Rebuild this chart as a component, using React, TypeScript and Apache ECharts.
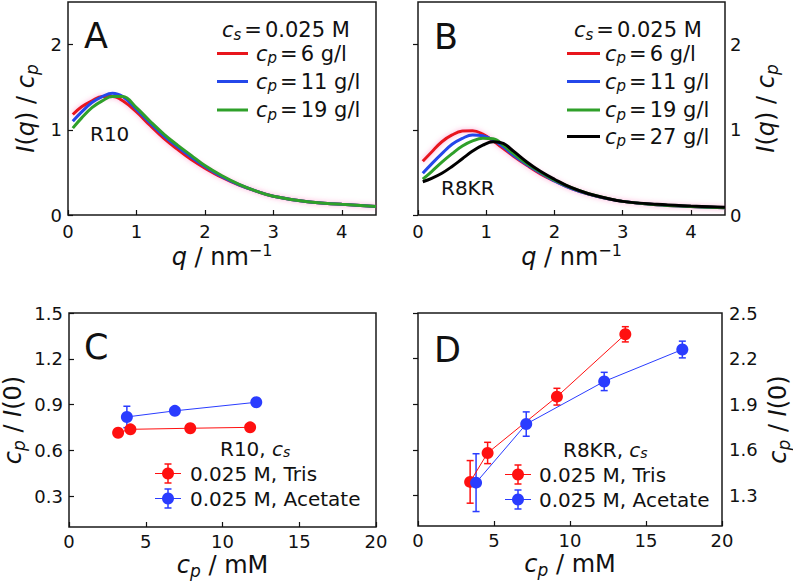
import React, { useEffect, useRef } from 'react';
import * as echarts from 'echarts';

// ---------- data ----------
const qA = [0.07, 0.2, 0.35, 0.5, 0.65, 0.8, 1.0, 1.2, 1.4, 1.6, 1.8, 2.0, 2.25, 2.5, 2.75, 3.0, 3.5, 4.0, 4.5];
const aCp6 = [1.18, 1.27, 1.34, 1.39, 1.39, 1.34, 1.21, 1.05, 0.9, 0.77, 0.65, 0.55, 0.44, 0.35, 0.28, 0.22, 0.155, 0.125, 0.1];
const aCp11 = [1.1, 1.21, 1.32, 1.39, 1.43, 1.39, 1.24, 1.08, 0.93, 0.8, 0.68, 0.57, 0.45, 0.355, 0.28, 0.22, 0.155, 0.125, 0.1];
const aCp19 = [1.02, 1.14, 1.26, 1.34, 1.39, 1.39, 1.26, 1.1, 0.95, 0.82, 0.7, 0.58, 0.46, 0.36, 0.28, 0.22, 0.155, 0.125, 0.1];

const qB = [0.07, 0.2, 0.35, 0.5, 0.65, 0.8, 0.95, 1.1, 1.25, 1.4, 1.6, 1.8, 2.0, 2.25, 2.5, 2.75, 3.0, 3.5, 4.0, 4.5];
const bCp6 = [0.63, 0.74, 0.86, 0.94, 0.985, 0.99, 0.95, 0.87, 0.78, 0.69, 0.58, 0.48, 0.4, 0.31, 0.245, 0.195, 0.16, 0.12, 0.1, 0.085];
const bCp11 = [0.49, 0.6, 0.72, 0.83, 0.9, 0.94, 0.93, 0.88, 0.8, 0.7, 0.59, 0.49, 0.4, 0.31, 0.245, 0.195, 0.16, 0.12, 0.1, 0.085];
const bCp19 = [0.42, 0.51, 0.62, 0.72, 0.81, 0.87, 0.9, 0.895, 0.82, 0.72, 0.6, 0.5, 0.41, 0.32, 0.25, 0.2, 0.16, 0.12, 0.1, 0.085];
const bCp27 = [0.39, 0.43, 0.49, 0.57, 0.66, 0.75, 0.82, 0.86, 0.84, 0.75, 0.62, 0.51, 0.42, 0.32, 0.25, 0.2, 0.16, 0.125, 0.105, 0.09];

const cTrisX = [3.2, 4.0, 7.9, 11.8];
const cTrisY = [0.717, 0.739, 0.746, 0.752];
const cTrisErr = [0.015, 0.015, 0.015, 0.015];
const cAcetX = [3.77, 6.9, 12.2];
const cAcetY = [0.82, 0.86, 0.916];
const cAcetErr = [0.07, 0.02, 0.02];

const dTrisX = [3.43, 4.58, 9.14, 13.64];
const dTrisY = [1.39, 1.58, 1.95, 2.36];
const dTrisErr = [0.14, 0.07, 0.055, 0.05];
const dAcetX = [3.82, 7.12, 12.25, 17.39];
const dAcetY = [1.385, 1.77, 2.05, 2.26];
const dAcetErr = [0.19, 0.08, 0.06, 0.055];

const qTicks = [0, 1, 2, 3, 4];
const iTicks = [0, 1, 2];
const cpTicks = [0, 5, 10, 15, 20];
const cTicksY = [0.3, 0.6, 0.9, 1.2, 1.5];
const dTicksY = [1.3, 1.6, 1.9, 2.2, 2.5];

// ---------- styles ----------
const FONT = 'DejaVu Sans';
const INK = '#111111';
const RED = '#e8161c';
const BLUE = '#2447ea';
const GREEN = '#2fa02a';
const BLACK = '#000000';
const MRED = '#ff1010';
const MBLUE = '#2a3cff';

function richSet(size: number) {
  return {
    n: { fontFamily: FONT, fontSize: size, color: INK },
    i: { fontFamily: FONT, fontSize: size, fontStyle: 'italic', color: INK },
    sub: { fontFamily: FONT, fontSize: Math.round(size * 0.72), fontStyle: 'italic', color: INK, padding: [Math.round(size * 0.45), 0, 0, 0] },
    sb: { fontFamily: FONT, fontSize: Math.round(size * 0.72), fontStyle: 'italic', color: INK, padding: [Math.round(size * 0.3), 0, 0, 0] },
    sup: { fontFamily: FONT, fontSize: Math.round(size * 0.68), color: INK, padding: [0, 0, Math.round(size * 0.55), 0] },
    eq: { fontFamily: FONT, fontSize: size, color: INK, padding: [0, 3, 0, 3] },
  };
}

function xAxisCfg(gridIndex: number, max: number, ticks: number[], name: string, gap: number, margin: number) {
  return {
    type: 'value', gridIndex, min: 0, max,
    axisLine: { show: false }, splitLine: { show: false },
    axisTick: { show: true, inside: true, length: 5, customValues: ticks, lineStyle: { color: INK, width: 1.2 } },
    axisLabel: { customValues: ticks, margin, fontSize: 18, fontFamily: FONT, color: INK, formatter: (v: number) => String(v) },
    name, nameLocation: 'middle', nameGap: gap,
    nameTextStyle: { fontSize: 24, fontFamily: FONT, color: INK, rich: richSet(24) },
  };
}

function yAxisCfg(gridIndex: number, min: number, max: number, ticks: number[], pos: string, name: string, gap: number, margin: number, dec: number) {
  return {
    type: 'value', gridIndex, min, max, position: pos,
    axisLine: { show: false }, splitLine: { show: false },
    axisTick: { show: true, inside: true, length: 5, customValues: ticks, lineStyle: { color: INK, width: 1.2 } },
    axisLabel: { customValues: ticks, margin, fontSize: 18, fontFamily: FONT, color: INK, formatter: (v: number) => v.toFixed(dec) },
    name, nameLocation: 'middle', nameGap: gap, nameRotate: 90,
    nameTextStyle: { fontSize: 24, fontFamily: FONT, color: INK, rich: richSet(24) },
  };
}

function curve(idx: number, qs: number[], vs: number[], color: string, halo: boolean) {
  return {
    type: 'line', xAxisIndex: idx, yAxisIndex: idx, smooth: 0.4, showSymbol: false, symbol: 'none',
    data: qs.map((q, i) => [q, vs[i]]),
    lineStyle: halo
      ? { color, width: 3, shadowColor: 'rgba(255,90,170,0.55)', shadowBlur: 5 }
      : { color, width: 3 },
    itemStyle: { color }, silent: true, z: 3,
  };
}

function errorBars(idx: number, xs: number[], ys: number[], es: number[], color: string) {
  return {
    type: 'custom', xAxisIndex: idx, yAxisIndex: idx, silent: true, z: 2,
    data: xs.map((x, i) => [x, ys[i], es[i]]),
    encode: { x: 0, y: 1 },
    renderItem: (_p: any, api: any) => {
      const x = api.value(0), y = api.value(1), e = api.value(2);
      const top = api.coord([x, y + e]);
      const bot = api.coord([x, y - e]);
      const cap = 3.5;
      const st = { stroke: color, lineWidth: 1.5 };
      return {
        type: 'group', children: [
          { type: 'line', shape: { x1: top[0], y1: top[1], x2: bot[0], y2: bot[1] }, style: st },
          { type: 'line', shape: { x1: top[0] - cap, y1: top[1], x2: top[0] + cap, y2: top[1] }, style: st },
          { type: 'line', shape: { x1: bot[0] - cap, y1: bot[1], x2: bot[0] + cap, y2: bot[1] }, style: st },
        ],
      };
    },
  };
}

function points(idx: number, xs: number[], ys: number[], color: string) {
  return {
    type: 'line', xAxisIndex: idx, yAxisIndex: idx, symbol: 'circle', symbolSize: 12, showSymbol: true,
    data: xs.map((x, i) => [x, ys[i]]),
    lineStyle: { color, width: 1 }, itemStyle: { color }, silent: true, z: 3,
  };
}

function txt(x: number, y: number, text: string, size: number, align = 'left') {
  return {
    type: 'text', x, y, silent: true,
    style: { text, fontFamily: FONT, fontSize: size, fill: INK, align, verticalAlign: 'middle', rich: richSet(size) },
  };
}

function legLine(x1: number, x2: number, y: number, color: string) {
  return { type: 'line', silent: true, shape: { x1, y1: y, x2, y2: y }, style: { stroke: color, lineWidth: 3 } };
}

function legMarker(cx: number, y: number, color: string) {
  const st = { stroke: color, lineWidth: 1.5 };
  return [
    { type: 'line', silent: true, shape: { x1: cx - 13, y1: y, x2: cx + 13, y2: y }, style: { stroke: color, lineWidth: 1 } },
    { type: 'line', silent: true, shape: { x1: cx, y1: y - 9.5, x2: cx, y2: y + 9.5 }, style: st },
    { type: 'line', silent: true, shape: { x1: cx - 3.5, y1: y - 9.5, x2: cx + 3.5, y2: y - 9.5 }, style: st },
    { type: 'line', silent: true, shape: { x1: cx - 3.5, y1: y + 9.5, x2: cx + 3.5, y2: y + 9.5 }, style: st },
    { type: 'circle', silent: true, shape: { cx, cy: y, r: 6 }, style: { fill: color } },
  ];
}

export default function App() {
  const ref = useRef<HTMLDivElement>(null);
  useEffect(() => {
    if (!ref.current) return;
    const chart = echarts.init(ref.current, undefined, { renderer: 'svg' });
    const gridStyle = { show: true, borderColor: '#1a1a1a', borderWidth: 1.5, backgroundColor: 'transparent', containLabel: false };
    const LEG = 21;
    const LEG2 = 20;
    chart.setOption({
      animation: false,
      backgroundColor: '#ffffff',
      grid: [
        { ...gridStyle, left: 68, top: 2, width: 308, height: 213 },
        { ...gridStyle, left: 418, top: 2, width: 307, height: 213 },
        { ...gridStyle, left: 68, top: 313, width: 308, height: 214 },
        { ...gridStyle, left: 418, top: 313, width: 307, height: 213 },
      ],
      xAxis: [
        xAxisCfg(0, 4.5, qTicks, '{i|q}{n| / nm}{sup|−1}', 27, 7),
        xAxisCfg(1, 4.5, qTicks, '{i|q}{n| / nm}{sup|−1}', 27, 7),
        xAxisCfg(2, 20, cpTicks, '{i|c}{sub|p}{n| / mM}', 24, 5),
        xAxisCfg(3, 20, cpTicks, '{i|c}{sub|p}{n| / mM}', 24, 5),
      ],
      yAxis: [
        yAxisCfg(0, 0, 2.5, iTicks, 'left', '{i|I}{n|(}{i|q}{n|) / }{i|c}{sub|p}', 28, 6, 0),
        yAxisCfg(1, 0, 2.5, iTicks, 'right', '{i|I}{n|(}{i|q}{n|) / }{i|c}{sub|p}', 27, 5, 0),
        yAxisCfg(2, 0.1, 1.5, cTicksY, 'left', '{i|c}{sub|p}{n| / }{i|I}{n|(0)}', 42, 6, 1),
        yAxisCfg(3, 1.1, 2.5, dTicksY, 'right', '{i|c}{sub|p}{n| / }{i|I}{n|(0)}', 42, 7, 1),
      ],
      series: [
        curve(0, qA, aCp6, RED, true),
        curve(0, qA, aCp11, BLUE, false),
        curve(0, qA, aCp19, GREEN, false),
        curve(1, qB, bCp6, RED, true),
        curve(1, qB, bCp11, BLUE, false),
        curve(1, qB, bCp19, GREEN, false),
        curve(1, qB, bCp27, BLACK, false),
        errorBars(2, cTrisX, cTrisY, cTrisErr, MRED),
        points(2, cTrisX, cTrisY, MRED),
        errorBars(2, cAcetX, cAcetY, cAcetErr, MBLUE),
        points(2, cAcetX, cAcetY, MBLUE),
        errorBars(3, dTrisX, dTrisY, dTrisErr, MRED),
        points(3, dTrisX, dTrisY, MRED),
        errorBars(3, dAcetX, dAcetY, dAcetErr, MBLUE),
        points(3, dAcetX, dAcetY, MBLUE),
      ],
      graphic: [
        // panel letters
        txt(84, 36, '{n|A}', 35),
        txt(434, 37, '{n|B}', 35),
        txt(84, 347, '{n|C}', 35),
        txt(434, 350, '{n|D}', 35),
        // panel A legend
        txt(222, 30, '{i|c}{sub|s}{eq|=}{n|0.025 M}', LEG),
        legLine(217, 248, 53.5, RED),
        txt(256, 53.5, '{i|c}{sub|p}{eq|=}{n|6 g/l}', LEG),
        legLine(217, 248, 81.5, BLUE),
        txt(256, 81.5, '{i|c}{sub|p}{eq|=}{n|11 g/l}', LEG),
        legLine(217, 248, 110, GREEN),
        txt(256, 110, '{i|c}{sub|p}{eq|=}{n|19 g/l}', LEG),
        txt(90, 134, '{n|R10}', 20),
        // panel B legend
        txt(574, 30, '{i|c}{sub|s}{eq|=}{n|0.025 M}', LEG),
        legLine(567, 600, 53.5, RED),
        txt(605, 53.5, '{i|c}{sub|p}{eq|=}{n|6 g/l}', LEG),
        legLine(567, 600, 81.5, BLUE),
        txt(605, 81.5, '{i|c}{sub|p}{eq|=}{n|11 g/l}', LEG),
        legLine(567, 600, 110, GREEN),
        txt(605, 110, '{i|c}{sub|p}{eq|=}{n|19 g/l}', LEG),
        legLine(567, 600, 136.5, BLACK),
        txt(605, 136.5, '{i|c}{sub|p}{eq|=}{n|27 g/l}', LEG),
        txt(441, 188, '{n|R8KR}', 20),
        // panel C legend
        txt(220, 449, '{n|R10, }{i|c}{sb|s}', LEG2),
        ...legMarker(168, 473.5, MRED),
        txt(190, 473.5, '{n|0.025 M, Tris}', LEG2),
        ...legMarker(168, 498.5, MBLUE),
        txt(190, 498.5, '{n|0.025 M, Acetate}', LEG2),
        // panel D legend
        txt(563, 450, '{n|R8KR, }{i|c}{sb|s}', LEG2),
        ...legMarker(518, 474.5, MRED),
        txt(539, 474.5, '{n|0.025 M, Tris}', LEG2),
        ...legMarker(518, 499.5, MBLUE),
        txt(539, 499.5, '{n|0.025 M, Acetate}', LEG2),
      ],
    });
    return () => chart.dispose();
  }, []);
  return (
    <div
      ref={ref}
      style={{ position: 'fixed', left: 0, top: 0, width: 793, height: 582, background: '#fff' }}
    />
  );
}
